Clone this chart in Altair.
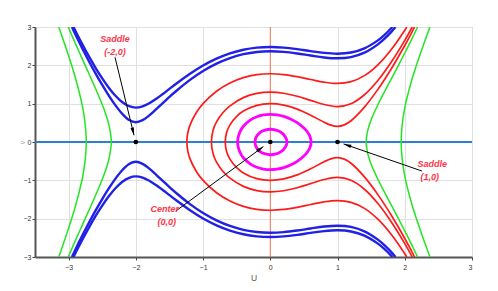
import altair as alt
import pandas as pd
import numpy as np

# ---- trajectories: upper halves (v >= 0) (portrait is symmetric in v) ----
# magenta closed orbits around the centre
mag_in_u = [-0.228, -0.22, -0.2, -0.15, -0.1, 0.0, 0.1, 0.15, 0.2, 0.24, 0.247]
mag_in_v = [0.0, 0.085, 0.159, 0.251, 0.299, 0.332, 0.301, 0.260, 0.190, 0.075, 0.0]
mag_out_u = [-0.485, -0.48, -0.45, -0.4, -0.3, -0.2, -0.1, 0.0, 0.1, 0.2, 0.3, 0.4, 0.5, 0.55, 0.59, 0.607]
mag_out_v = [0.0, 0.110, 0.273, 0.412, 0.571, 0.660, 0.707, 0.721, 0.708, 0.668, 0.602, 0.506, 0.366, 0.268, 0.146, 0.0]

# red trajectories passing over the saddle (1,0)
red1_u = [-0.670, -0.65, -0.6, -0.5, -0.4, -0.2, 0.0, 0.2, 0.4, 0.6, 0.8, 0.9, 1.0, 1.1, 1.2, 1.4, 1.6, 1.8, 2.0, 2.1, 2.145]
red1_v = [0.0, 0.247, 0.447, 0.669, 0.806, 0.957, 1.0, 0.962, 0.858, 0.699, 0.516, 0.440, 0.408, 0.447, 0.555, 0.911, 1.373, 1.912, 2.517, 2.842, 3.0]
red2_u = [-0.876, -0.85, -0.8, -0.7, -0.6, -0.4, -0.2, 0.0, 0.2, 0.4, 0.6, 0.8, 1.0, 1.2, 1.4, 1.6, 1.8, 2.0, 2.111]
red2_v = [0.0, 0.311, 0.523, 0.776, 0.943, 1.158, 1.267, 1.3, 1.271, 1.194, 1.085, 0.978, 0.925, 0.999, 1.233, 1.605, 2.085, 2.650, 3.0]
red3_u = [-1.241, -1.23, -1.2, -1.1, -1.0, -0.8, -0.6, -0.4, -0.2, 0.0, 0.2, 0.4, 0.6, 0.8, 1.0, 1.2, 1.4, 1.6, 1.8, 2.0, 2.029]
red3_v = [0.0, 0.214, 0.415, 0.769, 1.001, 1.324, 1.539, 1.679, 1.756, 1.780, 1.759, 1.704, 1.630, 1.560, 1.528, 1.574, 1.731, 2.013, 2.413, 2.916, 3.0]

# blue trajectories passing over the saddle (-2,0)
blue1_u = [-2.95, -2.9, -2.8, -2.7, -2.6, -2.5, -2.4, -2.3, -2.2, -2.1, -2.0, -1.9, -1.8, -1.7, -1.6, -1.5, -1.4,
           -1.2, -1.0, -0.8, -0.6, -0.4, -0.2, 0.0, 0.2, 0.4, 0.6, 0.8, 1.0, 1.2, 1.4, 1.6, 1.7, 1.8, 1.861]
blue1_v = [3.0, 2.808, 2.453, 2.114, 1.792, 1.488, 1.205, 0.949, 0.731, 0.574, 0.516, 0.569, 0.693, 0.849, 1.013, 1.176, 1.330,
           1.614, 1.853, 2.045, 2.191, 2.291, 2.349, 2.366, 2.351, 2.310, 2.256, 2.206, 2.183, 2.215, 2.330, 2.547, 2.697, 2.873, 3.0]
blue2_u = [-2.926, -2.9, -2.8, -2.7, -2.6, -2.5, -2.4, -2.3, -2.2, -2.1, -2.0, -1.9, -1.8, -1.7, -1.6, -1.5, -1.4,
           -1.2, -1.0, -0.8, -0.6, -0.4, -0.2, 0.0, 0.2, 0.4, 0.6, 0.8, 1.0, 1.2, 1.4, 1.6, 1.7, 1.817]
blue2_v = [3.0, 2.902, 2.561, 2.238, 1.936, 1.659, 1.411, 1.200, 1.036, 0.933, 0.898, 0.930, 1.010, 1.122, 1.251, 1.386, 1.520,
           1.773, 1.994, 2.173, 2.311, 2.406, 2.461, 2.478, 2.463, 2.424, 2.372, 2.325, 2.304, 2.334, 2.443, 2.651, 2.795, 3.0]

# green trajectories on the outer sides
gl1_u = [-2.737, -2.75, -2.775, -2.8, -2.9, -3.0, -3.1, -3.145]
gl1_v = [0.0, 0.394, 0.744, 0.984, 1.683, 2.247, 2.765, 3.0]
gl2_u = [-2.365, -2.4, -2.45, -2.5, -2.6, -2.7, -2.8, -2.9, -3.006]
gl2_v = [0.0, 0.438, 0.739, 0.977, 1.396, 1.792, 2.181, 2.574, 3.0]
gr1_u = [1.425, 1.44, 1.45, 1.5, 1.6, 1.7, 1.8, 1.9, 2.0, 2.1, 2.191]
gr1_v = [0.0, 0.222, 0.306, 0.581, 0.971, 1.315, 1.647, 1.981, 2.322, 2.671, 3.0]
gr2_u = [1.946, 1.96, 2.0, 2.1, 2.2, 2.3, 2.375]
gr2_v = [0.0, 0.417, 0.891, 1.593, 2.142, 2.643, 3.0]

# equilibria
eq_u = [-2, 0, 1]
eq_v = [0, 0, 0]

# annotations
label_text = ["Saddle", "(-2,0)", "Center", "(0,0)", "Saddle", "(1,0)"]
label_u = [-2.31, -2.31, -1.57, -1.54, 2.41, 2.37]
label_v = [2.68, 2.36, -1.76, -2.08, -0.58, -0.90]
arrow_u0 = [-2.31, -1.405, 2.255]
arrow_v0 = [2.21, -1.80, -0.757]
arrow_u1 = [-2.027, -0.103, 1.09]
arrow_v1 = [0.175, -0.12, -0.05]

# ---- styles ----
COL = {"mag": "#ff00ff", "red": "#ff1a1a", "blue": "#2020e6", "green": "#22e622"}
WID = {"mag": 2.8, "red": 1.7, "blue": 2.4, "green": 1.5}

rows_closed, rows_open = [], []


def add(rows, name, kind, pts):
    for i, (a, b) in enumerate(pts):
        rows.append({"curve": name, "i": i, "u": a, "v": b, "c": COL[kind], "w": WID[kind]})


def closed(u, v):
    up = list(zip(u, v))
    lo = list(zip(u[-2:0:-1], [-x for x in v[-2:0:-1]]))
    return up + lo


def through_vertex(u, v):
    return list(zip(u[::-1], v[::-1])) + list(zip(u[1:], [-x for x in v[1:]]))


add(rows_closed, "m1", "mag", closed(mag_in_u, mag_in_v))
add(rows_closed, "m2", "mag", closed(mag_out_u, mag_out_v))
for n, (u, v) in {"r1": (red1_u, red1_v), "r2": (red2_u, red2_v), "r3": (red3_u, red3_v)}.items():
    add(rows_open, n, "red", through_vertex(u, v))
for n, (u, v) in {"gl1": (gl1_u, gl1_v), "gl2": (gl2_u, gl2_v), "gr1": (gr1_u, gr1_v), "gr2": (gr2_u, gr2_v)}.items():
    add(rows_open, n, "green", through_vertex(u, v))
for n, (u, v) in {"b1": (blue1_u, blue1_v), "b2": (blue2_u, blue2_v)}.items():
    add(rows_open, n + "up", "blue", list(zip(u, v)))
    add(rows_open, n + "lo", "blue", list(zip(u, [-x for x in v])))

df_closed = pd.DataFrame(rows_closed)
df_open = pd.DataFrame(rows_open)

W, H = 437, 230
sx, sy = W / 6.5, H / 6.0
ang = [(np.degrees(np.arctan2((b1 - b0) * sx, (d1 - d0) * sy)) + 360) % 360
       for b0, b1, d0, d1 in zip(arrow_u0, arrow_u1, arrow_v0, arrow_v1)]
df_arrow = pd.DataFrame({"u": arrow_u0, "v": arrow_v0, "u2": arrow_u1, "v2": arrow_v1})
df_head = pd.DataFrame({"u": arrow_u1, "v": arrow_v1, "ang": ang})
df_eq = pd.DataFrame({"u": eq_u, "v": eq_v})
df_lab = pd.DataFrame({"u": label_u, "v": label_v, "t": label_text})

FONT = "Liberation Sans"
xax = alt.Axis(values=[-3, -2, -1, 0, 1, 2, 3], title="U", titleFontSize=8.5, titleFontWeight="normal",
               titleColor="#555555", titleBaseline="middle", titleY=20, labelPadding=3)
yax = alt.Axis(values=[-3, -2, -1, 0, 1, 2, 3], title="v", titleFontSize=7, titleFontWeight="normal",
               titleColor="#aaaaaa", titleX=-13, titleY=115, titleBaseline="middle", titleAlign="center",
               labelPadding=1)
X = alt.X("u:Q", scale=alt.Scale(domain=[-3.5, 3], nice=False, zero=False), axis=xax)
Y = alt.Y("v:Q", scale=alt.Scale(domain=[-3, 3], nice=False, zero=False), axis=yax)

hline = alt.Chart(pd.DataFrame({"v": [0]})).mark_rule(color="#2a7fd0", strokeWidth=1.8).encode(y=Y)
vline = alt.Chart(pd.DataFrame({"u": [0]})).mark_rule(color="#f07850", strokeWidth=1).encode(x=X)

open_lines = alt.Chart(df_open).mark_line(interpolate="catmull-rom", clip=True).encode(
    x=X, y=Y, detail="curve:N", order="i:Q",
    color=alt.Color("c:N", scale=None), strokeWidth=alt.StrokeWidth("w:Q", scale=None))
closed_lines = alt.Chart(df_closed).mark_line(interpolate="cardinal-closed", clip=True).encode(
    x=X, y=Y, detail="curve:N", order="i:Q",
    color=alt.Color("c:N", scale=None), strokeWidth=alt.StrokeWidth("w:Q", scale=None))

arrows = alt.Chart(df_arrow).mark_rule(color="black", strokeWidth=1).encode(
    x=X, y=Y, x2="u2:Q", y2="v2:Q")
heads = alt.Chart(df_head).mark_point(shape="M0,0L0.45,2L-0.45,2Z", filled=True, size=60,
                                      color="black", opacity=1).encode(
    x=X, y=Y, angle=alt.Angle("ang:Q", scale=None))
eqs = alt.Chart(df_eq).mark_circle(color="black", size=22, opacity=1).encode(x=X, y=Y)
labels = alt.Chart(df_lab).mark_text(font="Liberation Sans Narrow, " + FONT + ", sans-serif", fontSize=9,
                                     fontWeight="bold", fontStyle="italic", color="#ff3348",
                                     baseline="middle", align="center").encode(x=X, y=Y, text="t:N")

chart = alt.layer(hline, vline, open_lines, closed_lines, arrows, heads, eqs, labels).properties(
    width=W, height=H, autosize=alt.AutoSizeParams(type="none"),
    padding={"left": 27, "top": 19, "right": 18, "bottom": 26},
).configure_view(stroke="#dddddd").configure_axis(
    grid=True, gridColor="#e0e0e0", gridWidth=1, domainColor="#555555", domainWidth=2,
    tickColor="#444444", tickSize=3, labelFontSize=7, labelColor="#333333", labelFont=FONT, titleFont=FONT)

chart.save("out.html", embed_options={"renderer": "svg", "actions": False})
